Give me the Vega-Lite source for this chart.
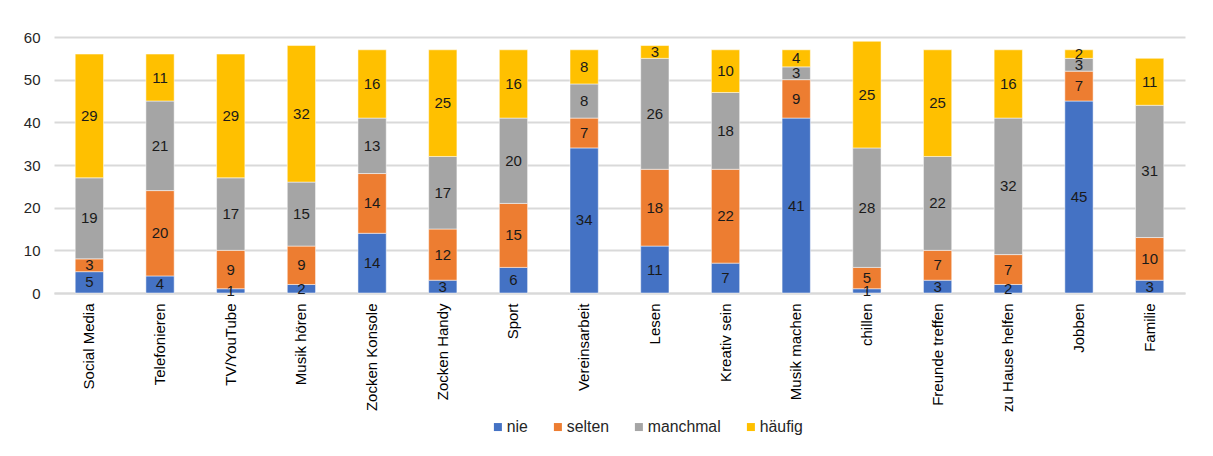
{
  "$schema": "https://vega.github.io/schema/vega-lite/v6.json",
  "width": 1131,
  "height": 256,
  "autosize": {"type": "none"},
  "padding": {"left": 54, "top": 37, "right": 28, "bottom": 163},
  "background": "white",
  "config": {
    "font": "Liberation Sans",
    "view": {"stroke": null},
    "axis": {"labelFont": "Liberation Sans", "labelFontSize": 15, "labelColor": "#404040", "title": null}
  },
  "data": {
    "values": [
      {"cat": "Social Media", "k": "nie", "r": 1, "v": 5},
      {"cat": "Social Media", "k": "selten", "r": 2, "v": 3},
      {"cat": "Social Media", "k": "manchmal", "r": 3, "v": 19},
      {"cat": "Social Media", "k": "häufig", "r": 4, "v": 29},
      {"cat": "Telefonieren", "k": "nie", "r": 1, "v": 4},
      {"cat": "Telefonieren", "k": "selten", "r": 2, "v": 20},
      {"cat": "Telefonieren", "k": "manchmal", "r": 3, "v": 21},
      {"cat": "Telefonieren", "k": "häufig", "r": 4, "v": 11},
      {"cat": "TV/YouTube", "k": "nie", "r": 1, "v": 1},
      {"cat": "TV/YouTube", "k": "selten", "r": 2, "v": 9},
      {"cat": "TV/YouTube", "k": "manchmal", "r": 3, "v": 17},
      {"cat": "TV/YouTube", "k": "häufig", "r": 4, "v": 29},
      {"cat": "Musik hören", "k": "nie", "r": 1, "v": 2},
      {"cat": "Musik hören", "k": "selten", "r": 2, "v": 9},
      {"cat": "Musik hören", "k": "manchmal", "r": 3, "v": 15},
      {"cat": "Musik hören", "k": "häufig", "r": 4, "v": 32},
      {"cat": "Zocken Konsole", "k": "nie", "r": 1, "v": 14},
      {"cat": "Zocken Konsole", "k": "selten", "r": 2, "v": 14},
      {"cat": "Zocken Konsole", "k": "manchmal", "r": 3, "v": 13},
      {"cat": "Zocken Konsole", "k": "häufig", "r": 4, "v": 16},
      {"cat": "Zocken Handy", "k": "nie", "r": 1, "v": 3},
      {"cat": "Zocken Handy", "k": "selten", "r": 2, "v": 12},
      {"cat": "Zocken Handy", "k": "manchmal", "r": 3, "v": 17},
      {"cat": "Zocken Handy", "k": "häufig", "r": 4, "v": 25},
      {"cat": "Sport", "k": "nie", "r": 1, "v": 6},
      {"cat": "Sport", "k": "selten", "r": 2, "v": 15},
      {"cat": "Sport", "k": "manchmal", "r": 3, "v": 20},
      {"cat": "Sport", "k": "häufig", "r": 4, "v": 16},
      {"cat": "Vereinsarbeit", "k": "nie", "r": 1, "v": 34},
      {"cat": "Vereinsarbeit", "k": "selten", "r": 2, "v": 7},
      {"cat": "Vereinsarbeit", "k": "manchmal", "r": 3, "v": 8},
      {"cat": "Vereinsarbeit", "k": "häufig", "r": 4, "v": 8},
      {"cat": "Lesen", "k": "nie", "r": 1, "v": 11},
      {"cat": "Lesen", "k": "selten", "r": 2, "v": 18},
      {"cat": "Lesen", "k": "manchmal", "r": 3, "v": 26},
      {"cat": "Lesen", "k": "häufig", "r": 4, "v": 3},
      {"cat": "Kreativ sein", "k": "nie", "r": 1, "v": 7},
      {"cat": "Kreativ sein", "k": "selten", "r": 2, "v": 22},
      {"cat": "Kreativ sein", "k": "manchmal", "r": 3, "v": 18},
      {"cat": "Kreativ sein", "k": "häufig", "r": 4, "v": 10},
      {"cat": "Musik machen", "k": "nie", "r": 1, "v": 41},
      {"cat": "Musik machen", "k": "selten", "r": 2, "v": 9},
      {"cat": "Musik machen", "k": "manchmal", "r": 3, "v": 3},
      {"cat": "Musik machen", "k": "häufig", "r": 4, "v": 4},
      {"cat": "chillen", "k": "nie", "r": 1, "v": 1},
      {"cat": "chillen", "k": "selten", "r": 2, "v": 5},
      {"cat": "chillen", "k": "manchmal", "r": 3, "v": 28},
      {"cat": "chillen", "k": "häufig", "r": 4, "v": 25},
      {"cat": "Freunde treffen", "k": "nie", "r": 1, "v": 3},
      {"cat": "Freunde treffen", "k": "selten", "r": 2, "v": 7},
      {"cat": "Freunde treffen", "k": "manchmal", "r": 3, "v": 22},
      {"cat": "Freunde treffen", "k": "häufig", "r": 4, "v": 25},
      {"cat": "zu Hause helfen", "k": "nie", "r": 1, "v": 2},
      {"cat": "zu Hause helfen", "k": "selten", "r": 2, "v": 7},
      {"cat": "zu Hause helfen", "k": "manchmal", "r": 3, "v": 32},
      {"cat": "zu Hause helfen", "k": "häufig", "r": 4, "v": 16},
      {"cat": "Jobben", "k": "nie", "r": 1, "v": 45},
      {"cat": "Jobben", "k": "selten", "r": 2, "v": 7},
      {"cat": "Jobben", "k": "manchmal", "r": 3, "v": 3},
      {"cat": "Jobben", "k": "häufig", "r": 4, "v": 2},
      {"cat": "Familie", "k": "nie", "r": 1, "v": 3},
      {"cat": "Familie", "k": "selten", "r": 2, "v": 10},
      {"cat": "Familie", "k": "manchmal", "r": 3, "v": 31},
      {"cat": "Familie", "k": "häufig", "r": 4, "v": 11}
    ]
  },
  "transform": [
    {"stack": "v", "groupby": ["cat"], "sort": [{"field": "r", "order": "ascending"}], "as": ["y0", "y1"]},
    {"calculate": "(datum.y0 + datum.y1) / 2", "as": "ym"}
  ],
  "encoding": {
    "x": {
      "field": "cat",
      "type": "nominal",
      "sort": null,
      "scale": {"paddingInner": 0.6, "paddingOuter": 0.3},
      "axis": {"labelAngle": -90, "labelColor": "#000000", "labelPadding": 10, "ticks": false, "domain": true, "domainColor": "#d9d9d9", "domainWidth": 2, "labelLimit": 200}
    }
  },
  "layer": [
    {
      "mark": {"type": "bar", "stroke": "white", "strokeWidth": 0.5},
      "encoding": {
        "y": {
          "field": "y0",
          "type": "quantitative",
          "scale": {"domain": [0, 60]},
          "axis": {"values": [0, 10, 20, 30, 40, 50, 60], "labelOverlap": false, "domain": false, "ticks": false, "grid": true, "gridColor": "#d9d9d9", "gridWidth": 2, "labelPadding": 14, "labelColor": "#262626"}
        },
        "y2": {"field": "y1"},
        "color": {
          "field": "k",
          "type": "nominal",
          "sort": ["nie", "selten", "manchmal", "häufig"],
          "scale": {"domain": ["nie", "selten", "manchmal", "häufig"], "range": ["#4472c4", "#ed7d31", "#a5a5a5", "#ffc000"]},
          "legend": {
            "title": null,
            "orient": "none",
            "direction": "horizontal",
            "legendX": 436,
            "legendY": 382,
            "symbolType": "square",
            "symbolSize": 64,
            "symbolStrokeWidth": 0,
            "labelFont": "Liberation Sans",
            "labelFontSize": 15.8,
            "labelColor": "#262626",
            "labelOffset": 1,
            "columnPadding": 22
          }
        }
      }
    },
    {
      "mark": {"type": "text", "fontSize": 15, "color": "#1a1a1a", "baseline": "middle", "align": "center"},
      "encoding": {
        "y": {
          "field": "ym",
          "type": "quantitative",
          "axis": {"values": [0, 10, 20, 30, 40, 50, 60], "labelOverlap": false, "domain": false, "ticks": false, "grid": true, "gridColor": "#d9d9d9", "gridWidth": 2, "labelPadding": 14, "labelColor": "#262626"}
        },
        "text": {"field": "v", "type": "quantitative"}
      }
    }
  ]
}
